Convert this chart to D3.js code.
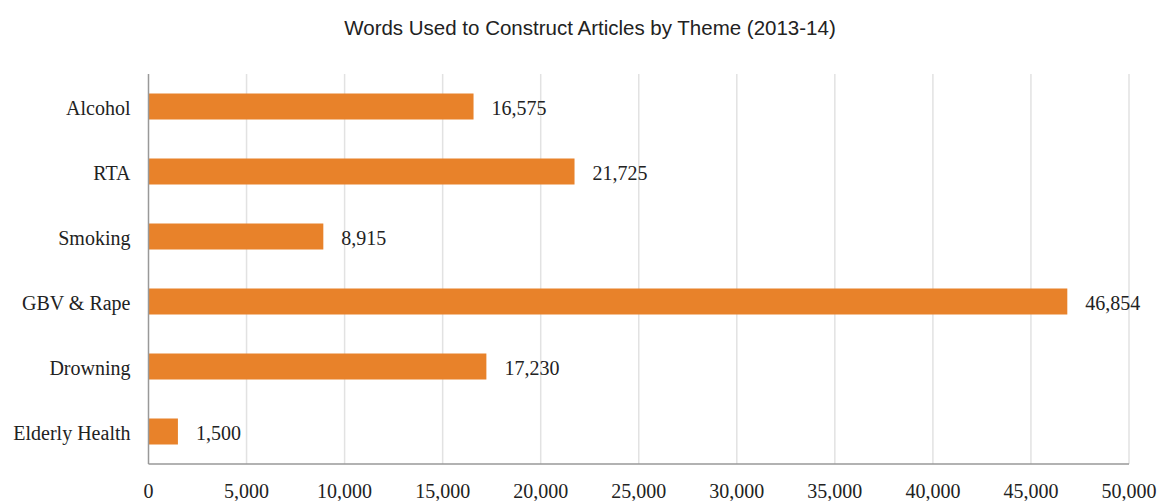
<!DOCTYPE html>
<html>
<head>
<meta charset="utf-8">
<script src="https://cdn.jsdelivr.net/npm/d3@7"></script>
<style>
  body { margin: 0; background: #fff; }
</style>
</head>
<body>
<div id="wrapper"></div>
<script>
const themes = ["Alcohol", "RTA", "Smoking", "GBV & Rape", "Drowning", "Elderly Health"];
const words = [16575, 21725, 8915, 46854, 17230, 1500];
const xTicks = [0, 5000, 10000, 15000, 20000, 25000, 30000, 35000, 40000, 45000, 50000];

function drawChart() {
    const dataset = themes.map((t, i) => ({ theme: t, words: words[i] }));

    let dimensions = {
        width: 1159,
        height: 501,
        margin: { top: 74, right: 30, bottom: 37, left: 148.5 }
    };
    dimensions.boundedWidth = dimensions.width - dimensions.margin.left - dimensions.margin.right;
    dimensions.boundedHeight = dimensions.height - dimensions.margin.top - dimensions.margin.bottom;

    const svg = d3.select("#wrapper")
        .append("svg")
            .attr("width", dimensions.width)
            .attr("height", dimensions.height);

    // title
    svg.append("text")
        .attr("x", 590)
        .attr("y", 35)
        .attr("text-anchor", "middle")
        .style("font-family", "Liberation Sans, Arial, sans-serif")
        .style("font-size", "20.5px")
        .style("fill", "#222")
        .text("Words Used to Construct Articles by Theme (2013-14)");

    const bounds = svg.append("g")
        .attr("transform", `translate(${dimensions.margin.left},${dimensions.margin.top})`);

    const xScale = d3.scaleLinear()
        .domain([0, 50000])
        .range([0, dimensions.boundedWidth]);

    const yScale = d3.scaleBand()
        .domain(themes)
        .range([0, dimensions.boundedHeight])
        .paddingInner(0.6)
        .paddingOuter(0.3);

    // gridlines
    bounds.selectAll(".grid")
        .data(xTicks.slice(1))
        .join("line")
            .attr("class", "grid")
            .attr("x1", d => xScale(d))
            .attr("x2", d => xScale(d))
            .attr("y1", 0)
            .attr("y2", dimensions.boundedHeight)
            .attr("stroke", "#e2e2e2")
            .attr("stroke-width", 1.5);

    // bars
    bounds.selectAll(".bar")
        .data(dataset)
        .join("rect")
            .attr("class", "bar")
            .attr("x", 0)
            .attr("y", d => yScale(d.theme))
            .attr("width", d => xScale(d.words))
            .attr("height", yScale.bandwidth())
            .attr("fill", "#e8822a");

    // value labels
    bounds.selectAll(".val")
        .data(dataset)
        .join("text")
            .attr("class", "val")
            .attr("x", d => xScale(d.words) + 18)
            .attr("y", d => yScale(d.theme) + yScale.bandwidth() / 2)
            .attr("dy", "0.4em")
            .style("font-family", "Liberation Serif, Times New Roman, serif")
            .style("font-size", "20px")
            .style("fill", "#222")
            .text(d => d3.format(",")(d.words));

    // axes lines
    bounds.append("line")
        .attr("x1", 0).attr("x2", 0)
        .attr("y1", 0).attr("y2", dimensions.boundedHeight)
        .attr("stroke", "#999").attr("stroke-width", 1.5);
    bounds.append("line")
        .attr("x1", 0).attr("x2", dimensions.boundedWidth)
        .attr("y1", dimensions.boundedHeight).attr("y2", dimensions.boundedHeight)
        .attr("stroke", "#999").attr("stroke-width", 1.5);

    // category labels
    bounds.selectAll(".cat")
        .data(themes)
        .join("text")
            .attr("class", "cat")
            .attr("x", -18)
            .attr("y", d => yScale(d) + yScale.bandwidth() / 2)
            .attr("dy", "0.4em")
            .attr("text-anchor", "end")
            .style("font-family", "Liberation Serif, Times New Roman, serif")
            .style("font-size", "20px")
            .style("fill", "#222")
            .text(d => d);

    // x tick labels
    bounds.selectAll(".xt")
        .data(xTicks)
        .join("text")
            .attr("class", "xt")
            .attr("x", d => xScale(d))
            .attr("y", dimensions.boundedHeight + 34)
            .attr("text-anchor", "middle")
            .style("font-family", "Liberation Serif, Times New Roman, serif")
            .style("font-size", "20px")
            .style("fill", "#222")
            .text(d => d3.format(",")(d));
}

drawChart();
</script>
</body>
</html>
